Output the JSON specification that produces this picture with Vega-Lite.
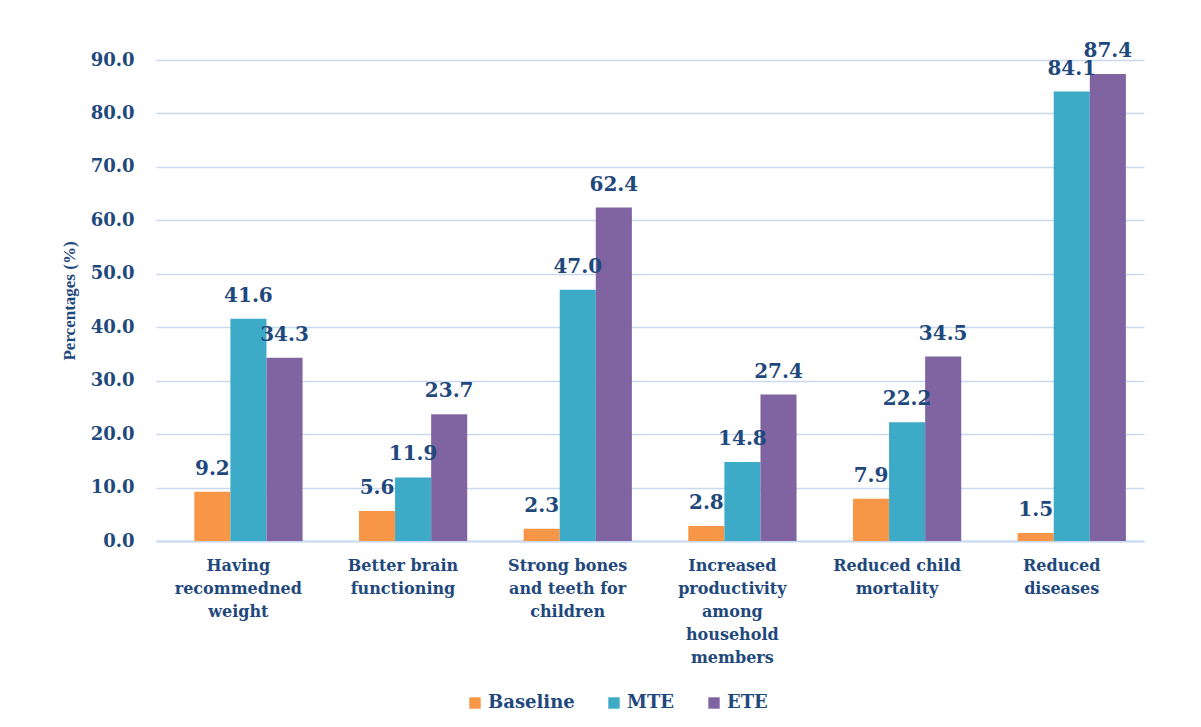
{
  "$schema": "https://vega.github.io/schema/vega-lite/v6.json",
  "width": 988,
  "height": 481,
  "padding": {"left": 60, "top": 40, "right": 40, "bottom": 10},
  "background": "white",
  "data": {
    "values": [
      {"cat": "Having|recommedned|weight", "series": "Baseline", "value": 9.2},
      {"cat": "Having|recommedned|weight", "series": "MTE", "value": 41.6},
      {"cat": "Having|recommedned|weight", "series": "ETE", "value": 34.3},
      {"cat": "Better brain|functioning", "series": "Baseline", "value": 5.6},
      {"cat": "Better brain|functioning", "series": "MTE", "value": 11.9},
      {"cat": "Better brain|functioning", "series": "ETE", "value": 23.7},
      {"cat": "Strong bones|and teeth for|children", "series": "Baseline", "value": 2.3},
      {"cat": "Strong bones|and teeth for|children", "series": "MTE", "value": 47.0},
      {"cat": "Strong bones|and teeth for|children", "series": "ETE", "value": 62.4},
      {"cat": "Increased|productivity|among|household|members", "series": "Baseline", "value": 2.8},
      {"cat": "Increased|productivity|among|household|members", "series": "MTE", "value": 14.8},
      {"cat": "Increased|productivity|among|household|members", "series": "ETE", "value": 27.4},
      {"cat": "Reduced child|mortality", "series": "Baseline", "value": 7.9},
      {"cat": "Reduced child|mortality", "series": "MTE", "value": 22.2},
      {"cat": "Reduced child|mortality", "series": "ETE", "value": 34.5},
      {"cat": "Reduced|diseases", "series": "Baseline", "value": 1.5},
      {"cat": "Reduced|diseases", "series": "MTE", "value": 84.1},
      {"cat": "Reduced|diseases", "series": "ETE", "value": 87.4}
    ]
  },
  "encoding": {
    "x": {
      "field": "cat",
      "type": "nominal",
      "sort": ["Having|recommedned|weight", "Better brain|functioning", "Strong bones|and teeth for|children", "Increased|productivity|among|household|members", "Reduced child|mortality", "Reduced|diseases"],
      "scale": {"paddingInner": 0.22, "paddingOuter": 0.11},
      "axis": {
        "title": null,
        "labelAngle": 0,
        "labelExpr": "split(datum.label, '|')",
        "labelFont": "DejaVu Serif",
        "labelFontWeight": "bold",
        "labelFontSize": 16,
        "labelLineHeight": 23,
        "labelColor": "#1F497D",
        "labelPadding": 16,
        "ticks": false,
        "domainColor": "#c9daf0",
        "domainWidth": 2,
        "labelBaseline": "top"
      }
    },
    "xOffset": {"field": "series", "type": "nominal", "sort": ["Baseline", "MTE", "ETE"], "scale": {"paddingInner": 0, "paddingOuter": 0.28, "align": 1}},
    "y": {
      "field": "value",
      "type": "quantitative",
      "scale": {"domain": [0, 90]},
      "axis": {
        "title": "Percentages (%)",
        "titleFont": "Liberation Serif",
        "titleFontWeight": "bold",
        "titleFontSize": 17,
        "titleColor": "#1F497D",
        "titlePadding": 12,
        "values": [0, 10, 20, 30, 40, 50, 60, 70, 80, 90],
        "format": ".1f",
        "labelFont": "DejaVu Serif",
        "labelFontWeight": "bold",
        "labelFontSize": 18,
        "labelColor": "#1F497D",
        "labelPadding": 22,
        "ticks": false,
        "domain": false,
        "gridColor": "#c9daf0",
        "gridWidth": 1.5
      }
    }
  },
  "layer": [
    {
      "mark": {"type": "bar"},
      "encoding": {
        "color": {
          "field": "series",
          "type": "nominal",
          "scale": {"domain": ["Baseline", "MTE", "ETE"], "range": ["#F79646", "#3DAAC8", "#8064A2"]},
          "legend": {
            "title": null,
            "orient": "none",
            "legendX": 310,
            "legendY": 634,
            "direction": "horizontal",
            "symbolType": "square",
            "symbolSize": 130,
            "labelFont": "DejaVu Serif",
            "labelFontWeight": "bold",
            "labelFontSize": 18,
            "labelColor": "#1F497D",
            "columnPadding": 30,
            "labelOffset": 4
          }
        }
      }
    },
    {
      "mark": {"type": "text", "baseline": "bottom", "dy": -13, "font": "DejaVu Serif", "fontWeight": "bold", "fontSize": 20, "color": "#1F497D"},
      "encoding": {
        "text": {"field": "value", "type": "quantitative", "format": ".1f"}
      }
    }
  ],
  "config": {
    "view": {"stroke": null}
  }
}
